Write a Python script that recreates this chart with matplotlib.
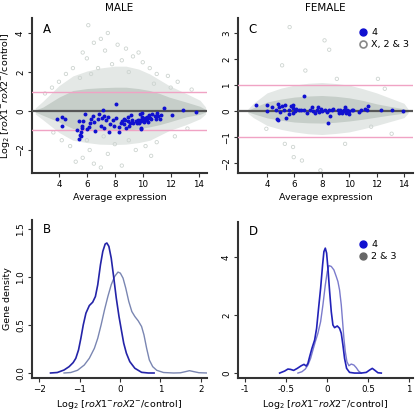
import matplotlib
matplotlib.use("Agg")
import matplotlib.pyplot as plt
from matplotlib.lines import Line2D

plt.rcParams['font.family'] = ['DejaVu Sans']
plt.rcParams['mathtext.fontset'] = 'dejavusans'

# ---------------- data ----------------
# Panel A (male) chromosome 4 genes
A4_x = [3.83, 4.21, 4.21, 4.40, 5.30, 5.43, 5.43, 5.48, 5.55, 5.65, 5.70, 5.84, 6.00, 6.15, 6.24,
        6.27, 6.46, 6.48, 6.55, 6.81, 6.90, 7.00, 7.05, 7.15, 7.20, 7.25, 7.39, 7.48, 7.58, 7.65,
        7.87, 7.96, 8.06, 8.06, 8.27, 8.32, 8.44, 8.53, 8.63, 8.68, 8.75, 8.82, 8.92, 8.96, 9.01,
        9.06, 9.15, 9.23, 9.30, 9.49, 9.58, 9.66, 9.70, 9.78, 9.80, 9.87, 9.90, 9.94, 9.97, 10.01,
        10.06, 10.13, 10.20, 10.28, 10.32, 10.40, 10.44, 10.54, 10.61, 10.68, 10.85, 10.97, 11.04,
        11.09, 11.21, 11.28, 11.50, 12.10, 12.88, 13.83, 9.90, 5.60, 5.64]
A4_y = [-0.39, -0.30, -0.76, -0.42, -0.98, -0.53, -1.42, -1.24, -1.07, -0.78, -0.50, -0.17, -0.90,
        -0.81, -0.64, -0.42, -0.25, -0.56, -1.02, -0.42, -0.17, -0.75, -0.34, 0.07, -0.88, -0.24,
        -0.47, -0.32, -1.07, -0.69, -0.47, -0.76, 0.37, -0.34, -0.80, -1.07, -0.64, -0.51, -0.39,
        -0.68, -0.47, -0.88, -0.30, -0.51, -0.76, -0.59, -0.22, -0.44, -0.64, -0.51, -0.59, -0.47,
        -0.64, -0.14, -0.44, -0.51, -0.85, -0.30, -0.08, -0.44, -0.56, -0.34, -0.47, -0.30, -0.42,
        -0.56, -0.22, -0.34, -0.42, -0.14, -0.24, -0.42, -0.08, -0.27, -0.39, -0.22, 0.17, -0.19,
        0.07, -0.05, -0.90, -1.30, -0.89]

# Panel A dense core of other chromosomes (X, 2 & 3)
A_env_x = [2.3, 2.85, 4.0, 5.0, 6.0, 6.9, 8.0, 8.8, 9.7, 10.5, 11.2, 11.9, 13.1, 14.1, 14.5]
A_core_hi = [0.05, 0.20, 0.71, 1.05, 1.15, 1.19, 1.22, 1.22, 1.15, 1.05, 0.90, 0.71, 0.46, 0.24, 0.08]
A_core_lo = [-0.05, -0.22, -0.56, -0.90, -0.96, -0.98, -1.00, -0.98, -0.92, -0.81, -0.70, -0.56,
             -0.30, -0.17, -0.05]
A_halo_hi = [0.15, 0.50, 1.30, 1.80, 2.05, 2.20, 2.30, 2.30, 2.15, 1.90, 1.60, 1.30, 0.90, 0.55, 0.20]
A_halo_lo = [-0.15, -0.45, -1.10, -1.50, -1.62, -1.70, -1.72, -1.70, -1.62, -1.50, -1.25, -1.00,
             -0.70, -0.40, -0.15]
A_out_x = [6.1, 6.5, 7.0, 7.3, 7.5, 8.2, 8.8, 5.7, 6.0, 9.3, 10.0, 10.5, 11.0, 11.8, 12.5, 5.0, 4.5,
           4.0, 3.5, 13.5, 7.8, 8.5, 9.0, 6.8, 6.3, 5.5, 10.8, 12.0, 3.0, 9.7,
           6.5, 7.0, 8.5, 5.7, 6.2, 7.5, 9.5, 10.2, 11.0, 4.8, 4.2, 3.6, 12.3, 13.2, 8.0, 9.0,
           6.0, 7.2, 5.2, 10.6]
A_out_y = [4.4, 3.5, 3.7, 3.1, 4.0, 3.4, 3.2, 3.0, 2.7, 2.8, 2.5, 2.2, 1.9, 1.8, 1.5, 2.2, 1.9,
           1.5, 1.2, 1.1, 2.4, 2.6, 2.0, 2.2, 1.9, 1.7, 1.4, 1.2, 0.9, 3.0,
           -2.7, -2.9, -2.8, -2.4, -2.0, -2.2, -2.0, -1.8, -1.6, -1.8, -1.5, -1.1, -1.3, -0.9,
           -1.7, -1.5, -1.5, -1.3, -2.6, -2.3]

# Panel C (female) chromosome 4 genes
C4_x = [3.22, 4.00, 4.00, 4.36, 4.68, 4.73, 4.78, 4.83, 4.90, 4.97, 5.10, 5.21, 5.29, 5.41, 5.58,
        5.63, 5.77, 5.87, 5.89, 6.01, 5.89, 6.14, 6.31, 6.48, 6.67, 6.72, 6.91, 7.11, 7.28, 7.33,
        7.52, 7.62, 7.71, 7.76, 7.96, 8.05, 8.20, 8.37, 8.44, 8.54, 8.61, 8.73, 8.85, 9.17, 9.27,
        9.34, 9.46, 9.56, 9.63, 9.70, 9.78, 9.87, 9.95, 10.00, 10.19, 10.31, 10.72, 10.87, 11.16,
        11.28, 11.40, 12.30, 13.10, 13.95]
C4_y = [0.22, 0.22, -0.01, 0.15, 0.03, -0.29, -0.33, 0.26, 0.15, -0.04, 0.18, 0.05, 0.22, -0.26,
        0.03, -0.10, 0.18, 0.22, 0.13, 0.00, -0.08, 0.09, 0.03, 0.03, 0.06, 0.58, -0.06, 0.03, 0.15,
        -0.01, -0.08, 0.03, 0.15, -0.04, 0.09, -0.01, 0.05, -0.04, -0.46, 0.05, -0.17, 0.03, 0.09,
        0.03, -0.06, 0.03, -0.08, -0.01, 0.05, 0.15, -0.08, 0.03, -0.13, -0.01, 0.05, 0.03, -0.04,
        0.03, 0.09, 0.03, 0.18, 0.03, 0.05, -0.01]

C_env_x = [2.6, 3.0, 4.0, 5.0, 6.0, 7.0, 8.0, 9.0, 10.0, 11.0, 12.0, 13.0, 14.0, 14.3]
C_core_hi = [0.03, 0.13, 0.35, 0.46, 0.54, 0.58, 0.60, 0.57, 0.51, 0.41, 0.28, 0.18, 0.09, 0.03]
C_core_lo = [-0.03, -0.10, -0.26, -0.35, -0.42, -0.45, -0.46, -0.43, -0.38, -0.31, -0.23, -0.15,
             -0.08, -0.03]
C_halo_hi = [0.08, 0.30, 0.70, 0.88, 1.00, 1.07, 1.10, 1.06, 1.00, 0.86, 0.70, 0.50, 0.30, 0.08]
C_halo_lo = [-0.08, -0.25, -0.55, -0.70, -0.80, -0.87, -0.90, -0.86, -0.80, -0.68, -0.55, -0.40,
             -0.25, -0.08]
C_out_x = [5.65, 8.2, 8.54, 5.1, 6.8, 9.1, 12.1, 12.6, 5.3, 5.9, 5.95, 6.55, 7.9, 9.7, 3.95, 11.6, 13.1]
C_out_y = [3.23, 2.72, 2.36, 1.76, 1.56, 1.24, 1.24, 0.86, -1.26, -1.38, -1.77, -1.90, -2.28, -1.26,
           -0.68, -0.60, -0.87]

# Panel B densities (male)
B4_x = [-1.717, -1.55, -1.383, -1.258, -1.158, -1.092, -1.025, -0.967, -0.908, -0.842, -0.758,
        -0.675, -0.608, -0.55, -0.483, -0.425, -0.367, -0.325, -0.275, -0.217, -0.158, -0.092,
        -0.025, 0.033, 0.092, 0.158, 0.242, 0.367, 0.533, 0.70, 0.842]
B4_y = [0.0, 0.005, 0.031, 0.066, 0.108, 0.153, 0.24, 0.361, 0.50, 0.622, 0.701, 0.736, 0.795,
        0.917, 1.125, 1.264, 1.340, 1.351, 1.316, 1.194, 1.003, 0.778, 0.587, 0.448, 0.309, 0.205,
        0.118, 0.049, 0.007, 0.0, 0.0]
Bo_x = [-1.383, -1.217, -1.05, -0.883, -0.758, -0.633, -0.55, -0.467, -0.383, -0.30, -0.217,
        -0.133, -0.05, 0.008, 0.075, 0.142, 0.217, 0.292, 0.367, 0.45, 0.533, 0.592, 0.658, 0.725,
        0.808, 0.908, 1.075, 1.325, 1.492, 1.617, 1.717, 1.825, 1.95, 2.158]
Bo_y = [0.0, 0.005, 0.028, 0.083, 0.153, 0.257, 0.361, 0.50, 0.656, 0.795, 0.917, 1.003, 1.049,
        1.038, 0.986, 0.882, 0.743, 0.639, 0.587, 0.542, 0.483, 0.396, 0.257, 0.135, 0.066, 0.028,
        0.005, 0.0, 0.002, 0.014, 0.024, 0.014, 0.003, 0.0]

# Panel D densities (female)
D4_x = [-0.577, -0.516, -0.476, -0.443, -0.406, -0.362, -0.313, -0.28, -0.252, -0.232, -0.211,
        -0.183, -0.15, -0.126, -0.102, -0.077, -0.053, -0.037, -0.02, -0.004, 0.012, 0.033, 0.053,
        0.073, 0.093, 0.126, 0.154, 0.175, 0.195, 0.215, 0.24, 0.276, 0.337, 0.419, 0.48, 0.52,
        0.553, 0.581, 0.622, 0.663]
D4_y = [0.0, 0.069, 0.138, 0.126, 0.092, 0.161, 0.253, 0.299, 0.241, 0.333, 0.563, 0.851, 1.138,
        1.54, 2.23, 2.92, 3.72, 4.18, 4.30, 4.13, 3.61, 2.80, 2.11, 1.655, 1.563, 1.62, 1.54, 1.368,
        0.966, 0.506, 0.161, 0.023, 0.0, 0.0, 0.023, 0.103, 0.161, 0.103, 0.011, 0.0]
Do_x = [-0.354, -0.305, -0.264, -0.232, -0.199, -0.171, -0.142, -0.11, -0.077, -0.049, -0.02,
        0.004, 0.024, 0.053, 0.085, 0.114, 0.134, 0.154, 0.175, 0.191, 0.207, 0.224, 0.244, 0.268,
        0.297, 0.329, 0.358, 0.386, 0.419]
Do_y = [0.0, 0.046, 0.138, 0.276, 0.506, 0.793, 1.08, 1.368, 1.77, 2.345, 3.03, 3.49, 3.70, 3.67,
        3.55, 3.32, 3.15, 2.86, 2.345, 1.77, 1.195, 0.736, 0.391, 0.253, 0.31, 0.276, 0.184, 0.069,
        0.0]

ylab = r'Log$_2$ [$\mathit{roX1}^{-}\mathit{roX2}^{-}$/control]'

# ---------------- figure ----------------
fig = plt.figure(figsize=(4.15, 4.12), dpi=100)
W, H = 415.0, 412.0

def box(l, t, r, b):
    return [l / W, 1 - b / H, (r - l) / W, (b - t) / H]

axA = fig.add_axes(box(32, 18, 207, 173))
axC = fig.add_axes(box(238, 18, 413, 173))
axB = fig.add_axes(box(32, 220, 207, 378))
axD = fig.add_axes(box(238, 222, 413, 378))

FS = 6.3
SPINE = '#333333'
core_c = '#c6cec9'
halo_c = '#e4e8e6'
ring_c = '#cdd4d0'
blue = '#1010d0'

def style(ax):
    for s in ['top', 'right']:
        ax.spines[s].set_visible(False)
    for s in ['left', 'bottom']:
        ax.spines[s].set_color(SPINE)
        ax.spines[s].set_linewidth(1.5)
    ax.tick_params(axis='both', labelsize=FS, length=3, width=0.8, color=SPINE, pad=2)
    for lab in ax.get_yticklabels():
        lab.set_rotation(90)
        lab.set_va('center')

def ma_panel(ax, ex, chi, clo, hhi, hlo, ox, oy, bx, by, xlim, ylim, yticks, letter, title):
    ax.fill_between(ex, hlo, hhi, color=halo_c, lw=0, zorder=1)
    ax.fill_between(ex, clo, chi, color=core_c, lw=0, zorder=2)
    ax.scatter(ox, oy, s=6, facecolors='none', edgecolors=ring_c, linewidths=0.6, zorder=2)
    ax.axhline(0, color='#555555', lw=1.6, zorder=3)
    ax.axhline(1, color='#f0a3c4', lw=1.0, zorder=3)
    ax.axhline(-1, color='#f0a3c4', lw=1.0, zorder=3)
    ax.scatter(bx, by, s=8, color=blue, lw=0, zorder=4)
    ax.set_xlim(*xlim)
    ax.set_ylim(*ylim)
    ax.set_xticks([4, 6, 8, 10, 12, 14])
    ax.set_yticks(yticks)
    ax.set_xlabel('Average expression', fontsize=FS + 0.5, labelpad=3)
    ax.text(0.06, 0.97, letter, transform=ax.transAxes, fontsize=8.5, va='top', ha='left')
    ax.set_title(title, fontsize=7.5, pad=5)
    style(ax)

ma_panel(axA, A_env_x, A_core_hi, A_core_lo, A_halo_hi, A_halo_lo, A_out_x, A_out_y,
         A4_x, A4_y, (2.07, 14.6), (-3.18, 4.77), [-2, 0, 2, 4], 'A', 'MALE')
axA.set_ylabel(ylab, fontsize=FS + 0.5, labelpad=3)

ma_panel(axC, C_env_x, C_core_hi, C_core_lo, C_halo_hi, C_halo_lo, C_out_x, C_out_y,
         C4_x, C4_y, (1.88, 14.66), (-2.38, 3.58), [-2, -1, 0, 1, 2, 3], 'C', 'FEMALE')

hC = [Line2D([], [], ls='none', marker='o', ms=5, color=blue),
      Line2D([], [], ls='none', marker='o', ms=5, mfc='none', mec='#888888', mew=1.2)]
axC.legend(hC, ['4', 'X, 2 & 3'], loc='upper left', bbox_to_anchor=(0.66, 0.96), frameon=False,
           fontsize=FS + 0.5, handletextpad=0.3, labelspacing=0.35, borderaxespad=0, handlelength=1.2)

# density panels
axB.plot(Bo_x, Bo_y, color='#7a86b2', lw=1.0)
axB.plot(B4_x, B4_y, color='#2424a8', lw=1.2)
axB.set_xlim(-2.175, 2.15)
axB.set_ylim(-0.052, 1.59)
axB.set_xticks([-2, -1, 0, 1, 2])
axB.set_yticks([0.0, 0.5, 1.0, 1.5])
axB.set_yticklabels(['0.0', '0.5', '1.0', '1.5'])
axB.set_ylabel('Gene density', fontsize=FS + 0.5, labelpad=3)
axB.set_xlabel(ylab, fontsize=FS + 0.5, labelpad=3)
axB.text(0.06, 0.98, 'B', transform=axB.transAxes, fontsize=8.5, va='top', ha='left')
style(axB)

axD.plot(Do_x, Do_y, color='#7b7bcc', lw=1.0)
axD.plot(D4_x, D4_y, color='#2222b8', lw=1.2)
axD.set_xlim(-1.085, 1.05)
axD.set_ylim(-0.17, 5.2)
axD.set_xticks([-1, -0.5, 0, 0.5, 1])
axD.set_xticklabels(['-1', '-0.5', '0', '0.5', '1'])
axD.set_yticks([0, 2, 4])
axD.set_xlabel(ylab, fontsize=FS + 0.5, labelpad=3)
axD.text(0.06, 0.98, 'D', transform=axD.transAxes, fontsize=8.5, va='top', ha='left')
hD = [Line2D([], [], ls='none', marker='o', ms=5, color=blue),
      Line2D([], [], ls='none', marker='o', ms=5, color='#666666')]
axD.legend(hD, ['4', '2 & 3'], loc='upper left', bbox_to_anchor=(0.66, 0.91), frameon=False,
           fontsize=FS + 0.5, handletextpad=0.3, labelspacing=0.35, borderaxespad=0, handlelength=1.2)
style(axD)

fig.savefig('out.png', dpi=100)
